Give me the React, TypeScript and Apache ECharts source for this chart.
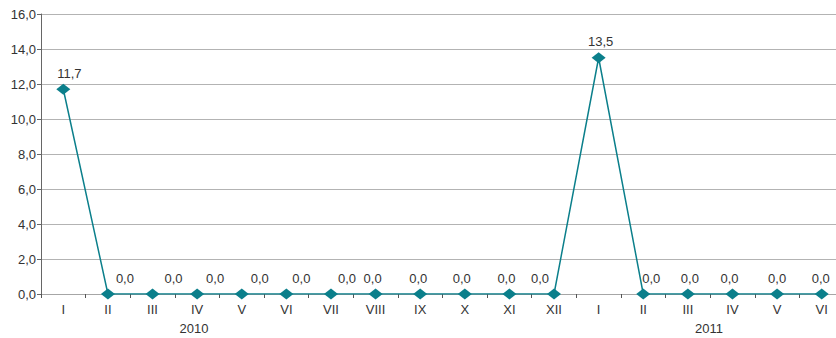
import React, { useEffect, useRef } from "react";
import * as echarts from "echarts";

const categories = ["I", "II", "III", "IV", "V", "VI", "VII", "VIII", "IX", "X", "XI", "XII", "I", "II", "III", "IV", "V", "VI"];
const values = [11.7, 0, 0, 0, 0, 0, 0, 0, 0, 0, 0, 0, 13.5, 0, 0, 0, 0, 0];
const yearLabels = ["2010", "2011"];
const yTicks = { min: 0, max: 16, interval: 2 };

// label horizontal offsets (layout only)
const labelDx = [6, 17, 21, 18, 18, 15, 16, -3, -2, -3, -3, -14, 2, 8, 2, -3, 0, -1];
const yearX = [194, 709];

const fmt = (v: number) => v.toFixed(1).replace(".", ",");

export default function App() {
  const ref = useRef<HTMLDivElement>(null);
  useEffect(() => {
    if (!ref.current) return;
    const chart = echarts.init(ref.current, null, { renderer: "svg" });
    const font = "'Liberation Sans', Arial, sans-serif";
    const teal = "#0b7f8b";
    chart.setOption({
      animation: false,
      textStyle: { fontFamily: font },
      grid: { left: 41, top: 14, height: 280, width: 803, containLabel: false, outerBoundsMode: "none" },
      xAxis: {
        type: "category",
        data: categories,
        boundaryGap: true,
        axisLine: { lineStyle: { color: "#a6a6a6", width: 1 } },
        axisTick: { show: true, length: 4, lineStyle: { color: "#555" }, alignWithLabel: false },
        axisLabel: { color: "#333", fontSize: 13, margin: 9, interval: 0, fontFamily: font },
        splitLine: { show: false },
      },
      yAxis: {
        type: "value",
        min: yTicks.min,
        max: yTicks.max,
        interval: yTicks.interval,
        axisLine: { show: true, lineStyle: { color: "#666", width: 1 } },
        axisTick: { show: true, length: 4, lineStyle: { color: "#666" } },
        axisLabel: { color: "#333", fontSize: 13, margin: 5, formatter: (v: number) => fmt(v), fontFamily: font },
        splitLine: { show: true, lineStyle: { color: "#b3b3b3", width: 1 } },
      },
      series: [
        {
          type: "line",
          data: values.map((v, i) => ({
            value: v,
            label: { offset: [labelDx[i], 0] },
          })),
          symbol: "diamond",
          symbolSize: [14, 11],
          lineStyle: { color: teal, width: 1.5 },
          itemStyle: { color: teal },
          label: {
            show: true,
            position: "top",
            distance: 4,
            color: "#333",
            fontSize: 13,
            fontFamily: font,
            formatter: (p: any) => fmt(p.value),
          },
        },
      ],
      graphic: yearLabels.map((t, i) => ({
        type: "text",
        x: yearX[i],
        y: 328,
        style: { text: t, fill: "#333", font: `13px ${font}`, textAlign: "center", textVerticalAlign: "middle" },
      })),
    });
    return () => chart.dispose();
  }, []);
  return <div ref={ref} style={{ position: "fixed", left: 0, top: 0, width: 836, height: 338, background: "#fff" }} />;
}
